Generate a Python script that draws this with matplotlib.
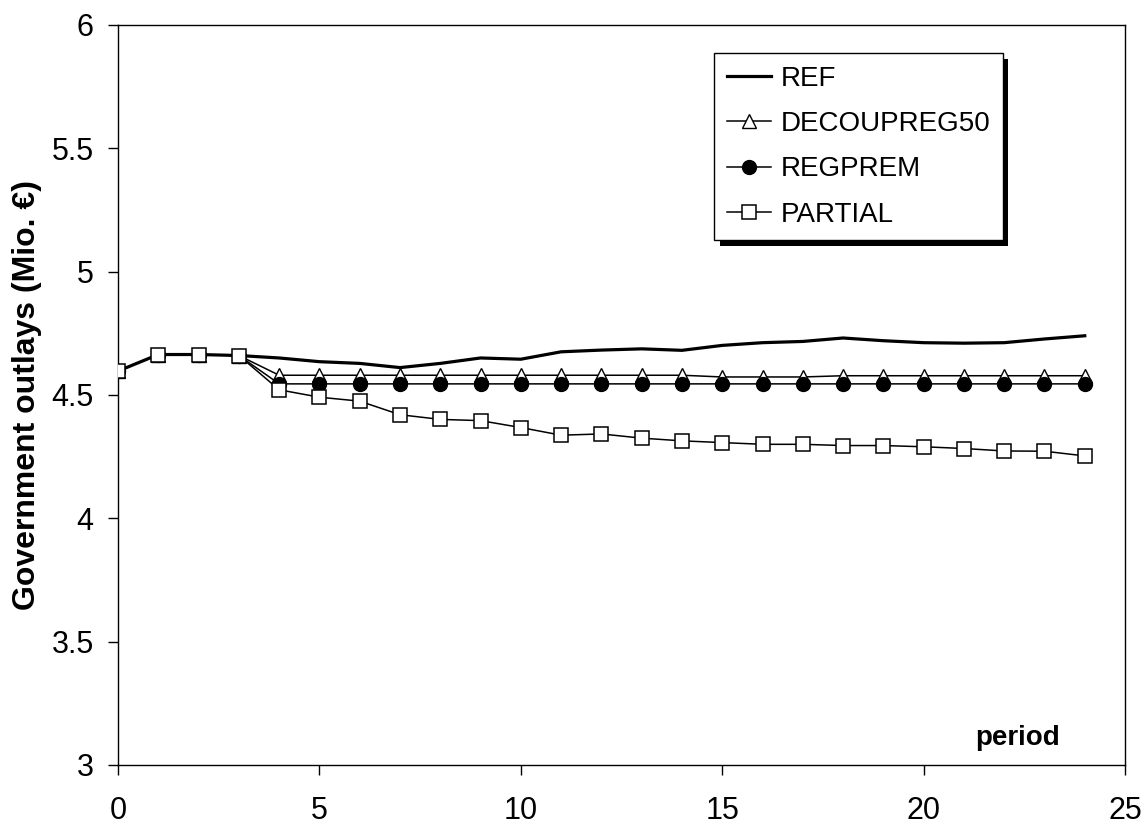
import matplotlib
matplotlib.use("Agg")
import matplotlib.pyplot as plt
from matplotlib.patches import Shadow

periods = list(range(25))
ref = [4.597, 4.664, 4.664, 4.660, 4.650, 4.635, 4.628, 4.611, 4.628, 4.650,
       4.645, 4.675, 4.682, 4.687, 4.681, 4.701, 4.712, 4.717, 4.731, 4.720,
       4.712, 4.710, 4.712, 4.727, 4.740]
decoupreg50 = [4.597, 4.664, 4.664, 4.660, 4.580, 4.580, 4.580, 4.580, 4.580, 4.580,
               4.580, 4.580, 4.580, 4.580, 4.580, 4.573, 4.573, 4.573, 4.578, 4.578,
               4.578, 4.578, 4.578, 4.578, 4.578]
regprem = [4.597, 4.664, 4.664, 4.660, 4.545, 4.545, 4.545, 4.545, 4.545, 4.545,
           4.545, 4.545, 4.545, 4.545, 4.545, 4.545, 4.545, 4.545, 4.545, 4.545,
           4.545, 4.545, 4.545, 4.545, 4.545]
partial = [4.597, 4.664, 4.664, 4.660, 4.521, 4.491, 4.475, 4.420, 4.401, 4.396,
           4.368, 4.337, 4.342, 4.325, 4.314, 4.307, 4.300, 4.300, 4.295, 4.295,
           4.290, 4.283, 4.273, 4.272, 4.253]
labels = ["REF", "DECOUPREG50", "REGPREM", "PARTIAL"]
x_ticks = [0, 5, 10, 15, 20, 25]
y_ticks = [3, 3.5, 4, 4.5, 5, 5.5, 6]
y_tick_labels = ["3", "3.5", "4", "4.5", "5", "5.5", "6"]

plt.rcParams['font.family'] = ['Liberation Sans', 'DejaVu Sans']

fig = plt.figure(figsize=(11.46, 8.27), dpi=100)
ax = fig.add_axes([0.103, 0.0750, 0.8787, 0.8948])

ax.plot(periods, ref, color='black', lw=2.3, label=labels[0], zorder=3)
ax.plot(periods, decoupreg50, color='black', lw=1.1, marker='^', ms=10,
        mfc='white', mec='black', mew=1.0, label=labels[1], zorder=4)
ax.plot(periods, regprem, color='black', lw=1.1, marker='o', ms=10,
        mfc='black', mec='black', label=labels[2], zorder=5)
ax.plot(periods, partial, color='black', lw=1.1, marker='s', ms=9.5,
        mfc='white', mec='black', mew=1.1, label=labels[3], zorder=6)

ax.set_xlim(0, 25)
ax.set_ylim(3, 6)
ax.set_xticks(x_ticks)
ax.set_yticks(y_ticks)
ax.set_yticklabels(y_tick_labels)
ax.tick_params(axis='both', labelsize=22, direction='out', length=7.5, width=1)
ax.tick_params(axis='y', pad=10)
ax.tick_params(axis='x', pad=15)
for s in ax.spines.values():
    s.set_linewidth(1.0)

ax.set_ylabel("Government outlays (Mio. €)", fontsize=23, fontweight='bold')
ax.yaxis.set_label_coords(-0.076, 0.5)
ax.text(23.39, 3.11, "period", fontsize=20, fontweight='bold', ha='right', va='center')

leg = ax.legend(loc='upper left', bbox_to_anchor=(0.592, 0.962), fontsize=20,
                frameon=True, fancybox=False, edgecolor='black', framealpha=1,
                handlelength=1.6, handletextpad=0.33, labelspacing=0.7,
                borderpad=0.45, borderaxespad=0)
leg.get_frame().set_linewidth(1.0)
leg.set_zorder(10)
fig.canvas.draw()
frame = leg.get_frame()
sh = Shadow(frame, 4, -4, facecolor='black', edgecolor='none', alpha=1)
sh.set_zorder(9)
sh.set_transform(frame.get_transform())
ax.add_artist(sh)

fig.savefig("out.png", dpi=100)
